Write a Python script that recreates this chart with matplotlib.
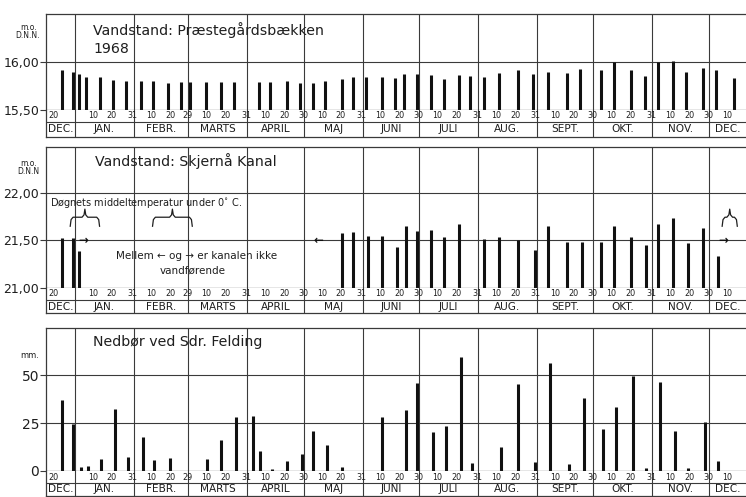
import numpy as np
import matplotlib.pyplot as plt

# x = day number counted from 1 Jan 1968 (negative values are Dec 1967)
praest_days = [-7, -1, 2, 6, 13, 20, 27, 35, 41, 49, 56, 61, 69, 77, 84, 97, 103,
               112, 119, 126, 132, 141, 147, 154, 162, 169, 174, 181, 188, 195,
               203, 209, 216, 224, 234, 242, 250, 260, 267, 278, 285, 294, 301,
               308, 316, 323, 332, 339, 348]
praest_level = [15.92, 15.90, 15.87, 15.84, 15.84, 15.81, 15.80, 15.80, 15.80,
                15.78, 15.79, 15.79, 15.79, 15.79, 15.79, 15.79, 15.79, 15.80,
                15.78, 15.78, 15.80, 15.82, 15.84, 15.84, 15.84, 15.83, 15.87,
                15.88, 15.86, 15.82, 15.86, 15.85, 15.84, 15.89, 15.92, 15.88,
                15.90, 15.89, 15.93, 15.92, 16.00, 15.92, 15.85, 16.00, 16.01,
                15.90, 15.94, 15.92, 15.83]

skjern_days = [-7, -1, 2, 141, 147, 155, 162, 170, 175, 181, 188, 195, 203, 216,
               224, 234, 243, 250, 260, 268, 278, 285, 294, 302, 308, 316, 324,
               332, 340]
skjern_level = [21.53, 21.53, 21.39, 21.58, 21.59, 21.55, 21.55, 21.43, 21.65,
                21.60, 21.61, 21.54, 21.67, 21.52, 21.54, 21.50, 21.40, 21.65,
                21.48, 21.48, 21.48, 21.65, 21.54, 21.45, 21.67, 21.74, 21.47,
                21.63, 21.34]

rain_days = [-7, -1, 3, 7, 14, 21, 28, 36, 42, 50, 70, 77, 85, 94, 98, 104, 112,
             120, 126, 133, 141, 162, 175, 181, 189, 196, 204, 210, 225, 234,
             243, 251, 261, 269, 279, 286, 295, 302, 309, 317, 324, 333, 340]
rain_mm = [37.0, 24.5, 2.3, 2.8, 6.4, 32.1, 7.1, 17.5, 5.6, 6.9, 6.4, 16.1, 28.0,
           28.8, 10.4, 1.0, 5.0, 8.7, 20.7, 13.7, 2.1, 28.0, 31.8, 46.0, 20.5,
           23.6, 59.5, 4.0, 12.7, 45.1, 4.7, 56.1, 3.6, 38.2, 22.0, 33.5, 49.7,
           1.5, 46.2, 20.8, 1.5, 25.7, 5.4]

# frost periods (braces) and the marks for the dry canal
frost_periods = [(-2.5, 13), (41, 62), (342, 350)]
dry_marks = [(4.5, "→"), (128.5, "←"), (342.5, "→")]

month_len = [31, 29, 31, 30, 31, 30, 31, 31, 30, 31, 30, 31]
month_names = ["DEC.", "JAN.", "FEBR.", "MARTS", "APRIL", "MAJ", "JUNI", "JULI",
               "AUG.", "SEPT.", "OKT.", "NOV.", "DEC."]
month_start = np.concatenate([[0], np.cumsum(month_len)[:-1]])

tick_days = [-12]
tick_labels = ["20"]
for start, n in zip(month_start, month_len):
    for d in (10, 20, n):
        tick_days.append(start + d - 1)
        tick_labels.append(str(d))
tick_days = tick_days[:-2]
tick_labels = tick_labels[:-2]

W, H = 746, 497
XMIN, XMAX = -15.3, 354.6
LINE = "#3a3a3a"
INK = "#1e1e1e"

fig = plt.figure(figsize=(W / 100, H / 100), dpi=100)


def box(top, bottom):
    return [46 / W, 1 - bottom / H, (W - 46) / W, (bottom - top) / H]


def ftext(x, y, s, **kw):
    fig.text(x / W, 1 - y / H, s, color=INK, **kw)


def panel(top, base, mid, bottom, ylim, yticks, ylabels, tick_fs=9):
    ax = fig.add_axes(box(top, base))
    ax.set_xlim(XMIN, XMAX)
    ax.set_ylim(*ylim)
    ax.set_xticks([])
    ax.set_yticks(yticks)
    ax.set_yticklabels(ylabels, fontsize=tick_fs, color=INK)
    ax.tick_params(axis="y", length=4, width=0.8, pad=1, color=LINE)
    for s in ("top", "left", "bottom"):
        ax.spines[s].set_color(LINE)
        ax.spines[s].set_linewidth(0.9)
    ax.spines["right"].set_visible(False)
    for v in yticks[1:]:
        ax.axhline(v, color=LINE, lw=0.8)
    for m in month_start:
        ax.axvline(m, color=LINE, lw=0.8)

    # day numbers and month names underneath
    st = fig.add_axes(box(base, bottom))
    st.set_xlim(XMIN, XMAX)
    st.set_ylim(0, 1)
    st.set_xticks([])
    st.set_yticks([])
    for s in ("left", "bottom"):
        st.spines[s].set_color(LINE)
        st.spines[s].set_linewidth(0.9)
    st.spines["top"].set_visible(False)
    st.spines["right"].set_visible(False)
    div = (bottom - mid) / (bottom - base)
    st.axhline(div, color=LINE, lw=0.8)
    for m in month_start:
        st.axvline(m, color=LINE, lw=0.8)
    for d, lab in zip(tick_days, tick_labels):
        st.text(d + 0.5, (1 + div) / 2, lab, fontsize=5.8, ha="center",
                va="center", color=INK)
    edges = [XMIN] + list(month_start) + [XMAX]
    for a, b, name in zip(edges[:-1], edges[1:], month_names):
        st.text((a + b) / 2, div / 2, name, fontsize=7.6, ha="center",
                va="center", color=INK)
    return ax


# Præstegårdsbækken
ax1 = panel(14, 110, 122, 137, (15.5, 16.5), [15.5, 16.0], ["15,50", "16,00"])
ax1.vlines(praest_days, 15.5, praest_level, color="#111111", lw=2.2)
ftext(93, 35, "Vandstand: Præstegårdsbækken", fontsize=10.2)
ftext(93, 53, "1968", fontsize=10.2)
ftext(29, 27, "m.o.", fontsize=5.5, ha="center", va="center")
ftext(28, 35, "D.N.N.", fontsize=5.5, ha="center", va="center")

# Skjernå Kanal
ax2 = panel(147, 288, 300, 313, (21.0, 22.484), [21.0, 21.5, 22.0],
            ["21,00", "21,50", "22,00"])
ax2.vlines(skjern_days, 21.0, skjern_level, color="#111111", lw=2.2)
ftext(95, 166, "Vandstand: Skjernå Kanal", fontsize=10.2)
ftext(29, 163, "m.o.", fontsize=5.5, ha="center", va="center")
ftext(28, 172, "D.N.N", fontsize=5.5, ha="center", va="center")

ax2.text(-13.3, 21.89, "Døgnets middeltemperatur under 0$^{\\circ}$ C.",
         fontsize=7, va="center", color=INK)
for a, b in frost_periods:
    m = (a + b) / 2
    e = 1.5
    ax2.plot([a, a + e * 0.3, a + e, m - e, m - e * 0.3, m, m + e * 0.3,
              m + e, b - e, b - e * 0.3, b],
             [21.65, 21.72, 21.745, 21.745, 21.77, 21.83, 21.77, 21.745,
              21.745, 21.72, 21.65],
             color=INK, lw=0.9)
for d, arrow in dry_marks:
    ax2.text(d, 21.5, arrow, fontsize=8.5, ha="center", va="center",
             color="#111111", fontweight="bold")
ax2.text(64, 21.34, "Mellem ← og → er kanalen ikke", fontsize=7.5,
         ha="center", va="center", color=INK)
ax2.text(62, 21.18, "vandførende", fontsize=7.5, ha="center", va="center",
         color=INK)

# Nedbør
ax3 = panel(328, 471, 483, 496, (0, 74.5), [0, 25, 50], ["0", "25", "50"],
            tick_fs=10)
ax3.vlines(rain_days, 0, rain_mm, color="#111111", lw=2.2)
ftext(93, 346, "Nedbør ved Sdr. Felding", fontsize=10.2)
ftext(30, 355, "mm.", fontsize=6, ha="center", va="center")

fig.savefig("out.png", dpi=100)
